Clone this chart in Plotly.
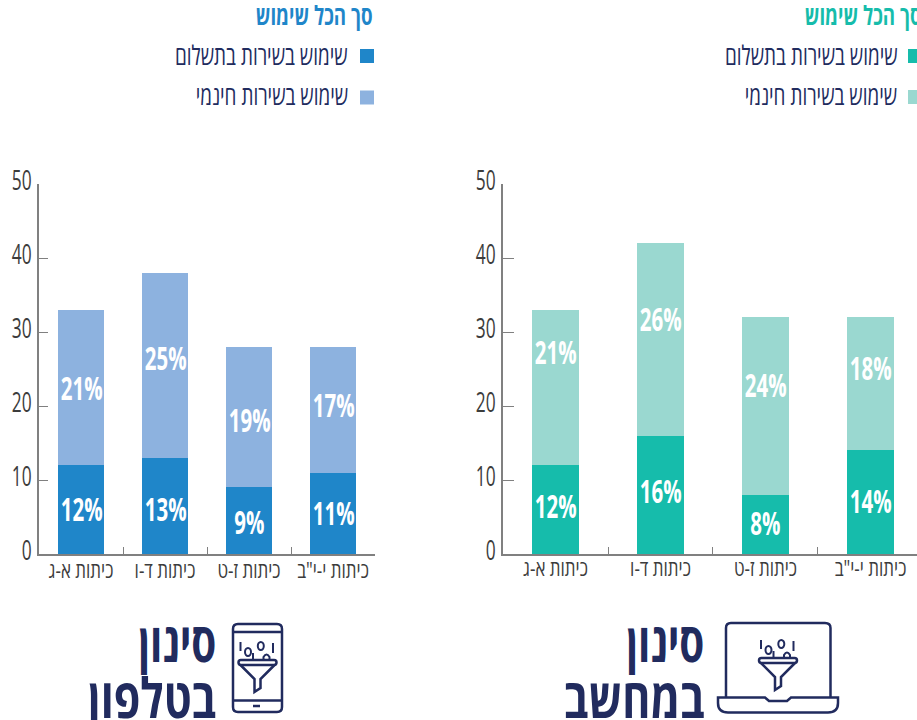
import plotly.graph_objects as go

W, H = 917, 720
categories = ["כיתות א-ג", "כיתות ד-ו", "כיתות ז-ט", "כיתות י-י\"ב"]
phone_paid = [12, 13, 9, 11]
phone_free = [21, 25, 19, 17]
pc_paid = [12, 16, 8, 14]
pc_free = [21, 26, 24, 18]
y_ticks = [0, 10, 20, 30, 40, 50]
heading = "סך הכל שימוש"
legend_paid = "שימוש בשירות בתשלום"
legend_free = "שימוש בשירות חינמי"
title_top = "סינון"
title_phone = "בטלפון"
title_pc = "במחשב"

# vertical nudges (px) of the value labels away from the middle of their segment
phone_paid_nudge = [1, -3, -1, 1]
phone_free_nudge = [0, 8, -2, 5]
pc_paid_nudge = [4, 4, 2, 2]
pc_free_nudge = [36, 21, 22, 16]

NAVY = "#212b5e"
GREY = "#3c3c3c"
FONT = "Open Sans, DejaVu Sans, sans-serif"
BLUE, LBLUE = "#1f86c9", "#8db2df"
TEAL, LTEAL = "#16bcab", "#9ad8d0"

def px(x): return x / W
def py(y): return 1 - y / H

fig = go.Figure()

def add_bars(xa, ya, paid, free, c1, c2, width, paid_nudge, free_nudge):
    for vals, col in ((paid, c1), (free, c2)):
        fig.add_trace(go.Bar(x=categories, y=vals, xaxis=xa, yaxis=ya, marker_color=col, marker_line_width=0,
                             width=width, showlegend=False))
    for i, c in enumerate(categories):
        for mid, val, nudge in ((paid[i] / 2, paid[i], paid_nudge[i]), (paid[i] + free[i] / 2, free[i], free_nudge[i])):
            fig.add_annotation(xref=xa, yref=ya, x=c, y=mid, text=f"{val}%", showarrow=False, yshift=nudge,
                               font=dict(family=FONT, size=33, color="white", weight="bold"))

add_bars("x", "y", phone_paid, phone_free, BLUE, LBLUE, 0.54, phone_paid_nudge, phone_free_nudge)
add_bars("x2", "y2", pc_paid, pc_free, TEAL, LTEAL, 0.45, pc_paid_nudge, pc_free_nudge)

xax = dict(type="category", showgrid=False, zeroline=False, showline=True, linecolor="#808080", linewidth=1.5,
           ticks="inside", ticklen=7, tickcolor="#808080", tickwidth=1, automargin=False, tickangle=0,
           tickfont=dict(family=FONT, size=22, color=GREY), categoryorder="array",
           categoryarray=categories, tickson="boundaries", fixedrange=True)
yax = dict(range=[0, 50], tickvals=y_ticks, showgrid=False, zeroline=False, showline=True, linecolor="#808080",
           linewidth=1.5, ticks="inside", tickcolor="#808080", tickwidth=1, automargin=False, ticklabelshift=-4,
           tickfont=dict(family=FONT, size=28, color=GREY), fixedrange=True)

fig.update_layout(
    width=W, height=H, margin=dict(l=0, r=0, t=0, b=0, autoexpand=False), barmode="stack",
    paper_bgcolor="white", plot_bgcolor="white", showlegend=False,
    xaxis=dict(xax, domain=[px(39), px(375)], anchor="y", range=[-0.5, 3.5], ticklabelstandoff=-4),
    yaxis=dict(yax, domain=[py(554), py(184)], anchor="x", ticklen=9),
    xaxis2=dict(xax, domain=[px(503), 1], anchor="y2", range=[-0.5, 3.443], ticklabelstandoff=-6),
    yaxis2=dict(yax, domain=[py(554), py(184)], anchor="x2", ticklen=11),
)

def text(x, y, s, size, color, bold=False):
    fig.add_annotation(xref="paper", yref="paper", x=px(x), y=py(y), text=s, showarrow=False,
                       xanchor="center", yanchor="middle",
                       font=dict(family=FONT, size=size, color=color, weight="bold" if bold else "normal"))

def square(x, y, c):
    fig.add_shape(type="rect", xref="paper", yref="paper", x0=px(x), x1=px(x + 14), y0=py(y - 7), y1=py(y + 7),
                  fillcolor=c, line_width=0)

text(313.5, 15, heading, 26, BLUE, True)
text(261.5, 55, legend_paid, 27, NAVY)
text(271.5, 95, legend_free, 27, NAVY)
square(360, 56, BLUE)
square(360, 97.5, LBLUE)
text(863, 15, heading, 26, TEAL, True)
text(811, 55, legend_paid, 27, NAVY)
text(821, 95, legend_free, 27, NAVY)
square(908, 56, TEAL)
square(908, 97, LTEAL)

text(177, 641, title_top, 54, NAVY, True)
text(152, 696, title_phone, 55, NAVY, True)
text(665.5, 641, title_top, 54, NAVY, True)
text(634.5, 696, title_pc, 55, NAVY, True)

def P(x, y): return f"{px(x):.5f},{py(y):.5f}"

def path_shape(d, width=2.5):
    fig.add_shape(type="path", xref="paper", yref="paper", path=d, line=dict(color=NAVY, width=width))

def line(*pts, close=False, width=2.5):
    path_shape("M" + " L".join(P(*p) for p in pts) + (" Z" if close else ""), width)

def rrect(x0, y0, x1, y1, r):
    path_shape(f"M{P(x0 + r, y0)} L{P(x1 - r, y0)} Q{P(x1, y0)} {P(x1, y0 + r)} L{P(x1, y1 - r)} Q{P(x1, y1)} {P(x1 - r, y1)} "
               f"L{P(x0 + r, y1)} Q{P(x0, y1)} {P(x0, y1 - r)} L{P(x0, y0 + r)} Q{P(x0, y0)} {P(x0 + r, y0)} Z")

def funnel(cx, t):
    rrect(cx - 19, t, cx + 19, t + 5, 2.4)
    line((cx - 17, t + 5), (cx - 3, t + 19), (cx - 3, t + 32), (cx + 3, t + 28), (cx + 3, t + 19), (cx + 17, t + 5))
    line((cx - 17, t - 18), (cx - 17, t - 9), width=2)
    line((cx + 15.5, t - 17), (cx + 15.5, t - 7), width=2)
    line((cx - 4.5, t - 7), (cx - 4.5, t), width=2)
    for dx, dy in ((-9.5, -8), (3.3, -14)):
        fig.add_shape(type="circle", xref="paper", yref="paper", x0=px(cx + dx - 3), x1=px(cx + dx + 3),
                      y0=py(t + dy - 4), y1=py(t + dy + 4), line=dict(color=NAVY, width=2))
    path_shape(f"M{P(cx + 6, t)} L{P(cx + 6, t - 3)} Q{P(cx + 9, t - 8)} {P(cx + 12, t - 3)} L{P(cx + 12, t)}", 2)

# phone icon
rrect(233, 624, 282, 712, 5)
line((233, 632), (282, 632))
line((233, 700.5), (282, 700.5))
line((253, 706), (260, 706))
funnel(257.5, 660)

# laptop icon
path_shape(f"M{P(726, 697)} L{P(726, 628)} Q{P(726, 623)} {P(731, 623)} L{P(825, 623)} Q{P(830.5, 623)} {P(830.5, 628)} L{P(830.5, 697)}")
path_shape(f"M{P(718, 697.5)} L{P(765, 697.5)} L{P(769, 701)} L{P(787, 701)} L{P(791, 697.5)} L{P(838, 697.5)} L{P(838, 703)} "
           f"Q{P(838, 712.5)} {P(828, 712.5)} L{P(728, 712.5)} Q{P(718, 712.5)} {P(718, 703)} Z")
funnel(778, 658)

# The reference uses a condensed face that is not installed: real text is narrowed per font size.
narrow = """
var f={'22':0.77,'26':0.72,'27':0.70,'28':0.62,'33':0.62,'54':0.747,'55':0.78};
document.body.style.margin='0';document.body.style.overflow='hidden';
document.querySelectorAll('svg text').forEach(function(t){
  var k=f[String(parseFloat(getComputedStyle(t).fontSize))];
  if(k&&t.textContent){t.setAttribute('textLength',t.getComputedTextLength()*k);t.setAttribute('lengthAdjust','spacingAndGlyphs');}
});
"""
fig.write_html("out.html", post_script=narrow, config={"displayModeBar": False})
